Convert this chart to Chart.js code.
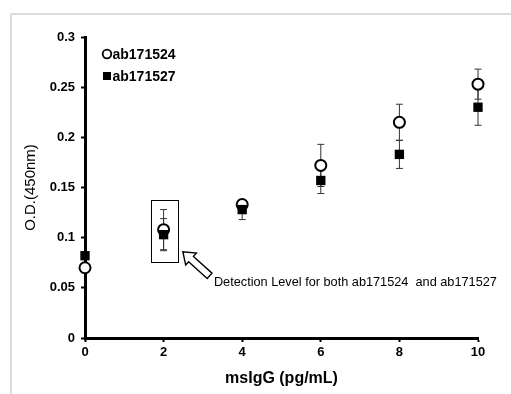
<!DOCTYPE html>
<html lang="en">
<head>
  <meta charset="UTF-8">
  <title>msIgG detection – ab171524 / ab171527</title>
  <style>
    html, body {
      margin: 0;
      padding: 0;
      background: #fff;
    }

    #wrap {
      position: relative;
      width: 511px;
      height: 394px;
    }

    /* light grey frame at the top-left of the figure */
    .frame {
      position: absolute;
      left: 10px;
      top: 13px;
      right: 0;
      bottom: 0;
      border-left: 2px solid #dcdcdc;
      border-top: 2px solid #dcdcdc;
    }

    canvas {
      position: absolute;
      left: 0;
      top: 0;
    }
  </style>
</head>
<body>
  <div id="wrap">
    <div class="frame"></div>
    <canvas id="odChart" width="511" height="394"></canvas>
  </div>

  <script src="https://cdn.jsdelivr.net/npm/chart.js"></script>
  <script>
    // values
    const doses = [0, 2, 4, 6, 8, 10];
    const od524 = [0.070, 0.108, 0.133, 0.172, 0.215, 0.253];
    const err524 = [0, 0.020, 0.004, 0.021, 0.018, 0.015];
    const od527 = [0.082, 0.103, 0.128, 0.157, 0.183, 0.230];
    const err527 = [0, 0.016, 0.010, 0.013, 0.014, 0.018];
    const xTicks = [0, 2, 4, 6, 8, 10];
    const yTicks = [0, 0.05, 0.1, 0.15, 0.2, 0.25, 0.3];
    const seriesNames = ['ab171524', 'ab171527'];
    const noteText = 'Detection Level for both ab171524  and ab171527';

    const toPoints = (ys) => doses.map((x, i) => ({ x: x, y: ys[i] }));

    // error bars, drawn under the markers
    const errorBars = {
      id: 'errorBars',
      beforeDatasetsDraw(chart) {
        const ctx = chart.ctx;
        const xs = chart.scales.x, ys = chart.scales.y;
        const sets = [[od524, err524], [od527, err527]];
        ctx.save();
        ctx.strokeStyle = '#333';
        ctx.lineWidth = 1;
        sets.forEach(([vals, errs]) => {
          vals.forEach((v, i) => {
            if (!errs[i]) return;
            const px = xs.getPixelForValue(doses[i]);
            const top = ys.getPixelForValue(v + errs[i]);
            const bot = ys.getPixelForValue(v - errs[i]);
            ctx.beginPath();
            ctx.moveTo(px, top); ctx.lineTo(px, bot);
            ctx.moveTo(px - 3.5, top); ctx.lineTo(px + 3.5, top);
            ctx.moveTo(px - 3.5, bot); ctx.lineTo(px + 3.5, bot);
            ctx.stroke();
          });
        });
        ctx.restore();
      }
    };

    // legend, detection box, arrow and note
    const extras = {
      id: 'extras',
      afterDraw(chart) {
        const ctx = chart.ctx;
        const xs = chart.scales.x, ys = chart.scales.y;
        const area = chart.chartArea;
        ctx.save();

        // legend inside the plot
        ctx.font = 'bold 14px "Liberation Sans", Arial, sans-serif';
        ctx.textBaseline = 'middle';
        const lx = area.left + 22;
        const ly1 = area.top + 17, ly2 = area.top + 39;
        ctx.beginPath();
        ctx.arc(lx, ly1, 4.3, 0, Math.PI * 2);
        ctx.fillStyle = '#fff';
        ctx.fill();
        ctx.lineWidth = 1.8;
        ctx.strokeStyle = '#000';
        ctx.stroke();
        ctx.fillStyle = '#000';
        ctx.fillText(seriesNames[0], lx + 5.5, ly1 + 1);
        ctx.fillRect(lx - 4, ly2 - 4, 8, 8);
        ctx.fillText(seriesNames[1], lx + 5.5, ly2 + 1);

        // box around the detection-level points (x = 2)
        const bx1 = xs.getPixelForValue(1.68), bx2 = xs.getPixelForValue(2.37);
        const by1 = ys.getPixelForValue(0.138), by2 = ys.getPixelForValue(0.076);
        ctx.lineWidth = 1;
        ctx.strokeRect(Math.round(bx1) + 0.5, Math.round(by1) + 0.5,
          Math.round(bx2 - bx1), Math.round(by2 - by1));

        // hollow block arrow pointing up-left at the box
        const tipX = xs.getPixelForValue(2.49), tipY = ys.getPixelForValue(0.086);
        const tailX = xs.getPixelForValue(3.17), tailY = ys.getPixelForValue(0.062);
        const L = Math.hypot(tipX - tailX, tipY - tailY);
        const ang = Math.atan2(tipY - tailY, tipX - tailX);
        const head = 11, hw = 8, sw = 3.6;
        ctx.translate(tailX, tailY);
        ctx.rotate(ang);
        ctx.beginPath();
        ctx.moveTo(0, -sw);
        ctx.lineTo(L - head, -sw);
        ctx.lineTo(L - head, -hw);
        ctx.lineTo(L, 0);
        ctx.lineTo(L - head, hw);
        ctx.lineTo(L - head, sw);
        ctx.lineTo(0, sw);
        ctx.closePath();
        ctx.fillStyle = '#fff';
        ctx.fill();
        ctx.lineWidth = 1.4;
        ctx.strokeStyle = '#000';
        ctx.stroke();
        ctx.setTransform(1, 0, 0, 1, 0, 0);

        // note text, squeezed to its width in the picture
        ctx.font = '13px "Liberation Sans", Arial, sans-serif';
        ctx.fillStyle = '#000';
        ctx.textBaseline = 'middle';
        const tx = xs.getPixelForValue(3.28), ty = ys.getPixelForValue(0.055);
        const want = xs.getPixelForValue(10.48) - tx;
        const got = ctx.measureText(noteText).width;
        ctx.translate(tx, ty);
        ctx.scale(want / got, 1);
        ctx.fillText(noteText, 0, 0);
        ctx.restore();
      }
    };

    const tickFont = { family: '"Liberation Sans", Arial, sans-serif', size: 13, weight: 'bold' };

    new Chart(document.getElementById('odChart'), {
      type: 'scatter',
      data: {
        datasets: [
          {
            label: seriesNames[0],
            data: toPoints(od524),
            pointStyle: 'circle',
            pointRadius: 5.5,
            pointBorderWidth: 2,
            pointBackgroundColor: '#fff',
            pointBorderColor: '#000',
            order: 1,
            clip: false
          },
          {
            label: seriesNames[1],
            data: toPoints(od527),
            pointStyle: 'rect',
            pointRadius: 6.6,
            pointBorderWidth: 0,
            pointBackgroundColor: '#000',
            pointBorderColor: '#000',
            order: 0,
            clip: false
          }
        ]
      },
      options: {
        responsive: false,
        animation: false,
        layout: { padding: { left: 12, right: 33, top: 37, bottom: 0 } },
        plugins: {
          legend: { display: false },
          tooltip: { enabled: false }
        },
        scales: {
          x: {
            type: 'linear',
            min: 0,
            max: 10,
            afterFit(scale) { scale.height = 56; },
            afterBuildTicks(scale) { scale.ticks = xTicks.map(v => ({ value: v })); },
            border: { display: true, color: '#000', width: 3 },
            grid: { drawOnChartArea: false, drawTicks: true, tickLength: 4, tickColor: '#000', tickWidth: 2 },
            ticks: { color: '#000', font: tickFont, padding: 3, maxRotation: 0 },
            title: {
              display: true,
              text: 'msIgG (pg/mL)',
              color: '#000',
              font: { family: '"Liberation Sans", Arial, sans-serif', size: 16, weight: 'bold' },
              padding: 6
            }
          },
          y: {
            min: 0,
            max: 0.3,
            afterFit(scale) { scale.width = 73; },
            afterBuildTicks(scale) { scale.ticks = yTicks.map(v => ({ value: v })); },
            border: { display: true, color: '#000', width: 3 },
            grid: { drawOnChartArea: false, drawTicks: true, tickLength: 4, tickColor: '#000', tickWidth: 2 },
            ticks: {
              color: '#000',
              font: tickFont,
              padding: 6,
              callback: (v) => String(+v.toFixed(2))
            },
            title: {
              display: true,
              text: 'O.D.(450nm)',
              color: '#000',
              font: { family: '"Liberation Sans", Arial, sans-serif', size: 15, weight: 'normal' },
              padding: 10
            }
          }
        }
      },
      plugins: [errorBars, extras]
    });
  </script>
</body>
</html>
